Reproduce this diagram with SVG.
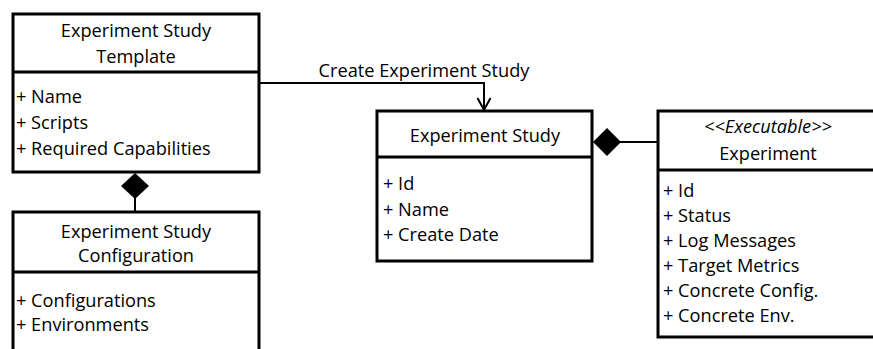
<svg xmlns="http://www.w3.org/2000/svg" width="873" height="349" viewBox="0 0 873 349">
  <style>
    .box { fill: #ffffff; stroke: #000000; stroke-width: 3; }
    .div { stroke: #000000; stroke-width: 3; }
    .line { fill: none; stroke: #000000; stroke-width: 2; }
    .diamond { fill: #000000; stroke: none; }
    text { font-family: "Open Sans", "Lato", sans-serif; font-size: 18.2px; fill: #000000; }
    .title { text-anchor: middle; }
    .stereo { font-style: italic; }
  </style>

  <!-- connectors -->
  <g id="connectors">
    <!-- template to study: create -->
    <polyline class="line" points="259,83 484,83 484,109"/>
    <polyline class="line" points="477.5,98 484,110 490.5,98"/>
    <text x="424" y="77" class="title">Create Experiment Study</text>
    <!-- template composes configuration -->
    <line class="line" x1="135" y1="198" x2="135" y2="212"/>
    <polygon class="diamond" points="135,173 149,186 135,199 121,186"/>
    <!-- study composes experiments -->
    <line class="line" x1="620" y1="142" x2="658" y2="142"/>
    <polygon class="diamond" points="593,142 607,128 621,142 607,156"/>
  </g>

  <g id="template">
    <rect class="box" x="13" y="14" width="246" height="158"/>
    <line class="div" x1="13" y1="72" x2="259" y2="72"/>
    <text x="136" y="37" class="title">Experiment Study</text>
    <text x="136" y="63" class="title">Template</text>
    <text x="16" y="103">+ Name</text>
    <text x="16" y="129">+ Scripts</text>
    <text x="16" y="155">+ Required Capabilities</text>
  </g>

  <g id="configuration">
    <rect class="box" x="13" y="212" width="246" height="150"/>
    <line class="div" x1="13" y1="272" x2="259" y2="272"/>
    <text x="136" y="238" class="title">Experiment Study</text>
    <text x="136" y="262" class="title">Configuration</text>
    <text x="16" y="307">+ Configurations</text>
    <text x="16" y="331">+ Environments</text>
  </g>

  <g id="study">
    <rect class="box" x="377" y="111" width="215" height="150"/>
    <line class="div" x1="377" y1="157" x2="592" y2="157"/>
    <text x="485" y="142" class="title">Experiment Study</text>
    <text x="383" y="190">+ Id</text>
    <text x="383" y="216">+ Name</text>
    <text x="383" y="241">+ Create Date</text>
  </g>

  <g id="experiment">
    <rect class="box" x="658" y="111" width="230" height="226"/>
    <line class="div" x1="658" y1="170" x2="888" y2="170"/>
    <text x="768" y="133" class="title stereo">&lt;&lt;Executable&gt;&gt;</text>
    <text x="768" y="160" class="title">Experiment</text>
    <text x="663" y="197">+ Id</text>
    <text x="663" y="222">+ Status</text>
    <text x="663" y="247">+ Log Messages</text>
    <text x="663" y="272">+ Target Metrics</text>
    <text x="663" y="297">+ Concrete Config.</text>
    <text x="663" y="322">+ Concrete Env.</text>
  </g>
</svg>
